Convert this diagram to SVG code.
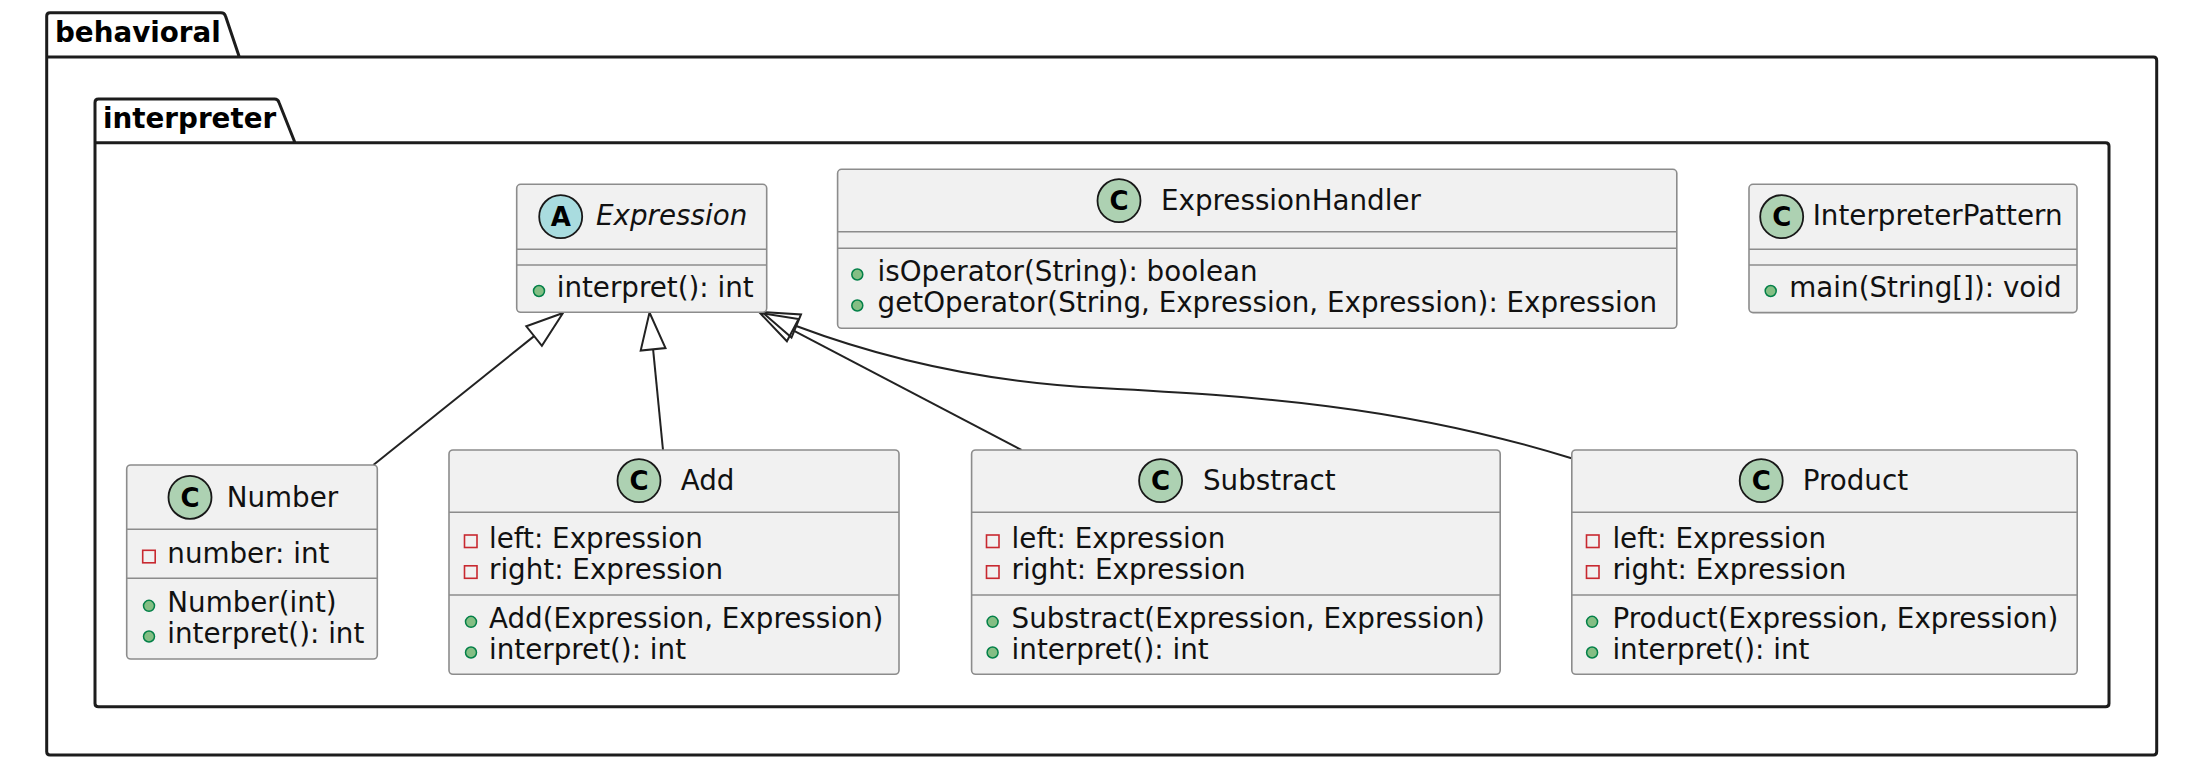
<svg xmlns="http://www.w3.org/2000/svg" width="2204" height="772" viewBox="0 0 2204 772">
<style>
.bg{fill:#FFFFFF}
.pkg{fill:none;stroke:#1c1c1c;stroke-width:3;stroke-linejoin:round}
.pkgt{font-family:"DejaVu Sans",sans-serif;font-size:27.75px;font-weight:bold;fill:#000}
.box{fill:#F1F1F1;stroke:#8c8c8c;stroke-width:1.6}
.sep{stroke:#8c8c8c;stroke-width:1.6}
.t{font-family:"DejaVu Sans",sans-serif;font-size:27.75px;fill:#111}
.it{font-style:italic}
.cC{fill:#ADD1B2;stroke:#181818;stroke-width:1.8}
.cA{fill:#A9DCDF;stroke:#181818;stroke-width:1.8}
.ltr{font-family:"DejaVu Sans",sans-serif;font-size:26px;font-weight:bold;fill:#000;text-anchor:middle}
.priv{fill:none;stroke:#C82930;stroke-width:1.6}
.pub{fill:#84BE84;stroke:#038048;stroke-width:1.5}
.edge{fill:none;stroke:#222;stroke-width:2}
.head{fill:none;stroke:#222;stroke-width:2;stroke-linejoin:miter}
</style>
<rect class="bg" x="0" y="0" width="2204" height="772"/>
<g id="pkg-behavioral">
<path class="pkg" d="M46.7,752 L46.7,16 Q46.7,12.7 50,12.7 L221,12.7 Q224.5,12.7 225.5,16 L239.3,57 L2153.5,57 Q2156.7,57 2156.7,60.5 L2156.7,751.5 Q2156.7,755 2153.5,755 L50,755 Q46.7,755 46.7,751.5 Z M46.7,57 L239.3,57"/>
<text class="pkgt" x="55" y="42">behavioral</text>
</g>
<g id="pkg-interpreter">
<path class="pkg" d="M95,703.5 L95,102.5 Q95,99 98.5,99 L274.5,99 Q278,99 279,102.5 L295,142.7 L2105.5,142.7 Q2109,142.7 2109,146 L2109,703.5 Q2109,706.7 2105.5,706.7 L98.5,706.7 Q95,706.7 95,703.5 Z M95,142.7 L295,142.7"/>
<text class="pkgt" x="103" y="128">interpreter</text>
</g>
<g id="connectors">
<path class="edge" d="M373.3,465 L534.1,336.1"/>
<polygon class="head" points="563,313 541.9,345.9 526.3,326.3"/>
<path class="edge" d="M663,450 L653.1,349.3"/>
<polygon class="head" points="649.5,312.5 665.5,348.1 640.7,350.5"/>
<path class="edge" d="M1021.4,450 L792.7,330.2"/>
<polygon class="head" points="760,313 798.5,319.1 786.9,341.3"/>
<path class="edge" d="M1571.5,458.3 C1400,405 1250,396 1100,388 C1000,383 900,365 796.2,326"/>
<polygon class="head" points="762,312 801,314.4 791.5,337.6"/>
</g>
<g id="Expression">
<rect class="box" x="516.7" y="184.3" width="250" height="128" rx="4"/>
<line class="sep" x1="516.7" y1="249.3" x2="766.7" y2="249.3"/>
<line class="sep" x1="516.7" y1="265" x2="766.7" y2="265"/>
<circle class="cA" cx="560.7" cy="216.7" r="21.5"/>
<text class="ltr" x="560.7" y="226.2">A</text>
<text class="t it" x="596" y="225">Expression</text>
<circle class="pub" cx="539" cy="291" r="5.5"/>
<text class="t" x="556.7" y="297.3">interpret(): int</text>
</g>
<g id="ExpressionHandler">
<rect class="box" x="837.6" y="169.3" width="839.2" height="159" rx="4"/>
<line class="sep" x1="837.6" y1="231.7" x2="1676.8" y2="231.7"/>
<line class="sep" x1="837.6" y1="248.3" x2="1676.8" y2="248.3"/>
<circle class="cC" cx="1119" cy="200.7" r="21.5"/>
<text class="ltr" x="1119" y="210.2">C</text>
<text class="t" x="1161" y="210">ExpressionHandler</text>
<circle class="pub" cx="857.3" cy="274.5" r="5.5"/>
<text class="t" x="877.6" y="281">isOperator(String): boolean</text>
<circle class="pub" cx="857.3" cy="305.5" r="5.5"/>
<text class="t" x="877.6" y="312">getOperator(String, Expression, Expression): Expression</text>
</g>
<g id="InterpreterPattern">
<rect class="box" x="1749" y="184.3" width="328" height="128.3" rx="4"/>
<line class="sep" x1="1749" y1="249.3" x2="2077" y2="249.3"/>
<line class="sep" x1="1749" y1="265" x2="2077" y2="265"/>
<circle class="cC" cx="1781.7" cy="216.7" r="21.5"/>
<text class="ltr" x="1781.7" y="226.2">C</text>
<text class="t" x="1812.7" y="225">InterpreterPattern</text>
<circle class="pub" cx="1770.7" cy="291" r="5.5"/>
<text class="t" x="1789.3" y="297.3">main(String[]): void</text>
</g>
<g id="Number">
<rect class="box" x="126.7" y="465" width="250.6" height="194" rx="4"/>
<line class="sep" x1="126.7" y1="529.3" x2="377.3" y2="529.3"/>
<line class="sep" x1="126.7" y1="578.3" x2="377.3" y2="578.3"/>
<circle class="cC" cx="190" cy="497.3" r="21.5"/>
<text class="ltr" x="190" y="506.8">C</text>
<text class="t" x="226.7" y="506.7">Number</text>
<rect class="priv" x="142.7" y="550.3" width="12.5" height="12.5"/>
<text class="t" x="167.3" y="563.3">number: int</text>
<circle class="pub" cx="149" cy="605.8" r="5.5"/>
<text class="t" x="167.3" y="612.3">Number(int)</text>
<circle class="pub" cx="149" cy="636.5" r="5.5"/>
<text class="t" x="167.3" y="643">interpret(): int</text>
</g>
<g id="Add">
<rect class="box" x="449" y="450" width="450" height="224.3" rx="4"/>
<line class="sep" x1="449" y1="512.3" x2="899" y2="512.3"/>
<line class="sep" x1="449" y1="595" x2="899" y2="595"/>
<circle class="cC" cx="639" cy="480.7" r="21.5"/>
<text class="ltr" x="639" y="490.2">C</text>
<text class="t" x="680.7" y="490">Add</text>
<rect class="priv" x="464.5" y="535" width="12.5" height="12.5"/>
<text class="t" x="489" y="548.3">left: Expression</text>
<rect class="priv" x="464.5" y="565.8" width="12.5" height="12.5"/>
<text class="t" x="489" y="579">right: Expression</text>
<circle class="pub" cx="471" cy="621.8" r="5.5"/>
<text class="t" x="489" y="628.3">Add(Expression, Expression)</text>
<circle class="pub" cx="471" cy="652.5" r="5.5"/>
<text class="t" x="489" y="659">interpret(): int</text>
</g>
<g id="Substract">
<rect class="box" x="971.6" y="450" width="528.6" height="224.3" rx="4"/>
<line class="sep" x1="971.6" y1="512.3" x2="1500.2" y2="512.3"/>
<line class="sep" x1="971.6" y1="595" x2="1500.2" y2="595"/>
<circle class="cC" cx="1160.6" cy="480.7" r="21.5"/>
<text class="ltr" x="1160.6" y="490.2">C</text>
<text class="t" x="1203" y="490">Substract</text>
<rect class="priv" x="986.5" y="535" width="12.5" height="12.5"/>
<text class="t" x="1011.6" y="548.3">left: Expression</text>
<rect class="priv" x="986.5" y="565.8" width="12.5" height="12.5"/>
<text class="t" x="1011.6" y="579">right: Expression</text>
<circle class="pub" cx="992.6" cy="621.8" r="5.5"/>
<text class="t" x="1011.6" y="628.3">Substract(Expression, Expression)</text>
<circle class="pub" cx="992.6" cy="652.5" r="5.5"/>
<text class="t" x="1011.6" y="659">interpret(): int</text>
</g>
<g id="Product">
<rect class="box" x="1571.8" y="450" width="505.4" height="224.3" rx="4"/>
<line class="sep" x1="1571.8" y1="512.3" x2="2077.2" y2="512.3"/>
<line class="sep" x1="1571.8" y1="595" x2="2077.2" y2="595"/>
<circle class="cC" cx="1761.2" cy="480.7" r="21.5"/>
<text class="ltr" x="1761.2" y="490.2">C</text>
<text class="t" x="1802.7" y="490">Product</text>
<rect class="priv" x="1586.5" y="535" width="12.5" height="12.5"/>
<text class="t" x="1612.4" y="548.3">left: Expression</text>
<rect class="priv" x="1586.5" y="565.8" width="12.5" height="12.5"/>
<text class="t" x="1612.4" y="579">right: Expression</text>
<circle class="pub" cx="1592.1" cy="621.8" r="5.5"/>
<text class="t" x="1612.4" y="628.3">Product(Expression, Expression)</text>
<circle class="pub" cx="1592.1" cy="652.5" r="5.5"/>
<text class="t" x="1612.4" y="659">interpret(): int</text>
</g>
</svg>
